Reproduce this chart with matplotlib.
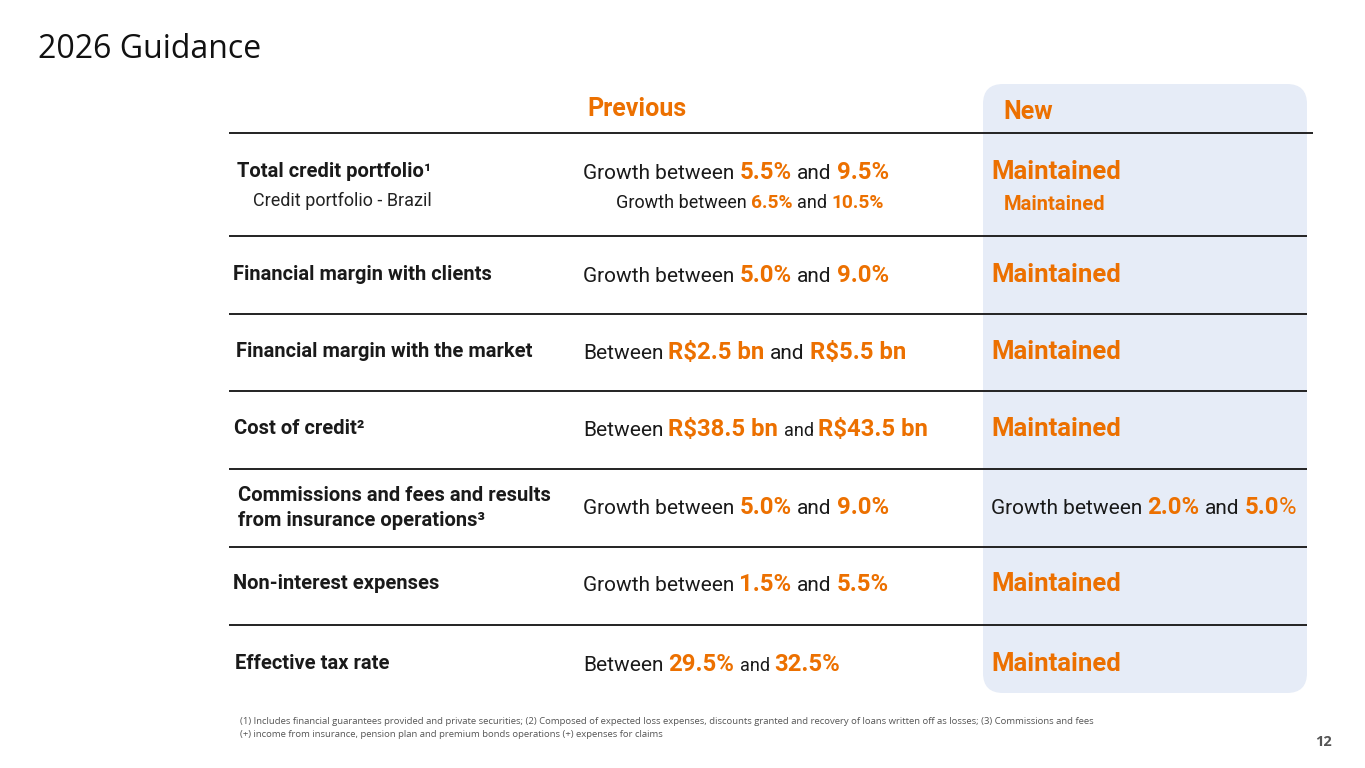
import matplotlib.pyplot as plt
from matplotlib.patches import FancyBboxPatch

# ---- data -------------------------------------------------------------
row_labels = ['Total credit portfolio\u00b9',
              'Financial margin with clients',
              'Financial margin with the market',
              'Cost of credit\u00b2',
              'Commissions and fees and results\nfrom insurance operations\u00b3',
              'Non-interest expenses',
              'Effective tax rate']
sub_label = 'Credit portfolio - Brazil'

prev_prefix = ['Growth between', 'Growth between', 'Between', 'Between',
               'Growth between', 'Growth between', 'Between']
prev_low = ['5.5%', '5.0%', 'R$2.5 bn', 'R$38.5 bn', '5.0%', '1.5%', '29.5%']
prev_high = ['9.5%', '9.0%', 'R$5.5 bn', 'R$43.5 bn', '9.0%', '5.5%', '32.5%']
small_and = [False, False, False, True, False, False, True]

sub_prev_low, sub_prev_high = '6.5%', '10.5%'

new_values = ['Maintained', 'Maintained', 'Maintained', 'Maintained',
              None, 'Maintained', 'Maintained']
new_low, new_high = '2.0%', '5.0'   # commissions row, the "%" is thin

footnote = ['(1) Includes financial guarantees provided and private securities; (2) Composed of expected loss expenses, '
            'discounts granted and recovery of loans written off as losses; (3) Commissions and fees',
            '(+) income from insurance, pension plan and premium bonds operations (+) expenses for claims']

# ---- style ------------------------------------------------------------
ORANGE = '#EC7000'
DARK = '#1a1a1a'
BODY = 'Roboto'
plt.rcParams['font.family'] = [BODY, 'DejaVu Sans']

fig = plt.figure(figsize=(13.65, 7.68), dpi=100)
ax = fig.add_axes([0, 0, 1, 1])
ax.set_xlim(0, 1365)
ax.set_ylim(768, 0)
ax.axis('off')
renderer = fig.canvas.get_renderer()


def runs(x, y, parts):
    """draw text pieces one after the other on a common baseline"""
    for txt, size, bold, color, gap in parts:
        t = ax.text(x, y, txt, fontsize=size, color=color, va='baseline', ha='left',
                    fontweight='bold' if bold else 'normal', family=BODY)
        w = t.get_window_extent(renderer).width
        x += w + (0.24 * size * 100 / 72 if gap else 0)
    return x


# blue "New" column
ax.add_patch(FancyBboxPatch((983, 84), 324, 609, boxstyle='round,pad=0,rounding_size=20',
                            facecolor='#E6ECF7', edgecolor='none', zorder=0))

# title
ax.text(38, 58, '2026 Guidance', fontsize=23, color='#111111', family='Open Sans',
        va='baseline', ha='left')

# headers
ax.text(587, 116, 'Previous', fontsize=18, fontweight='bold', color=ORANGE, va='baseline')
ax.text(1003, 119, 'New', fontsize=18, fontweight='bold', color=ORANGE, va='baseline')

# separators
line_y = [133, 236, 314, 391, 469, 547, 625]
for i, ly in enumerate(line_y):
    ax.plot([229, 1313 if i == 0 else 1307], [ly, ly], color='#222222', lw=1.4,
            solid_capstyle='butt', zorder=2)

row_base = [179, 282, 359, 436, 514, 591, 671]
label_x = [237, 233, 236, 234, 238, 233, 235]

for i, lab in enumerate(row_labels):
    yb = row_base[i]
    if '\n' in lab:
        l1, l2 = lab.split('\n')
        ax.text(label_x[i], yb - 13, l1, fontsize=14.5, fontweight='bold', color=DARK, va='baseline')
        ax.text(label_x[i], yb + 12, l2, fontsize=14.5, fontweight='bold', color=DARK, va='baseline')
    else:
        ax.text(label_x[i], yb - 2, lab, fontsize=14.5, fontweight='bold', color=DARK, va='baseline')

    and_size = 13 if small_and[i] else 15
    runs(583, yb, [(prev_prefix[i], 15, False, DARK, True),
                   (prev_low[i], 17.2, True, ORANGE, True),
                   ('and', and_size, False, DARK, True),
                   (prev_high[i], 17.2, True, ORANGE, False)])

    if new_values[i] is not None:
        ax.text(991, yb, new_values[i], fontsize=18.5, fontweight='bold', color=ORANGE,
                va='baseline')
    else:
        runs(991, yb, [('Growth between', 15, False, DARK, True),
                       (new_low, 17.2, True, ORANGE, True),
                       ('and', 15, False, DARK, True),
                       (new_high, 17.2, True, ORANGE, False),
                       ('%', 17.2, False, ORANGE, False)])

# sub row of the credit portfolio
ax.text(253, 206, sub_label, fontsize=13, color='#222222', va='baseline')
runs(616, 208, [('Growth between', 13, False, DARK, True),
                (sub_prev_low, 13.8, True, ORANGE, True),
                ('and', 13, False, DARK, True),
                (sub_prev_high, 13.8, True, ORANGE, False)])
ax.text(1004, 210, 'Maintained', fontsize=14.5, fontweight='bold', color=ORANGE, va='baseline')

# footnotes and page number
ax.text(240, 724, footnote[0], fontsize=6.8, color='#555555', family='Open Sans', va='baseline')
ax.text(240, 737, footnote[1], fontsize=6.8, color='#555555', family='Open Sans', va='baseline')
ax.text(1332, 746, '12', fontsize=10.5, fontweight='bold', color='#555555', family='Open Sans',
        va='baseline', ha='right')

fig.savefig('out.png', dpi=100)
